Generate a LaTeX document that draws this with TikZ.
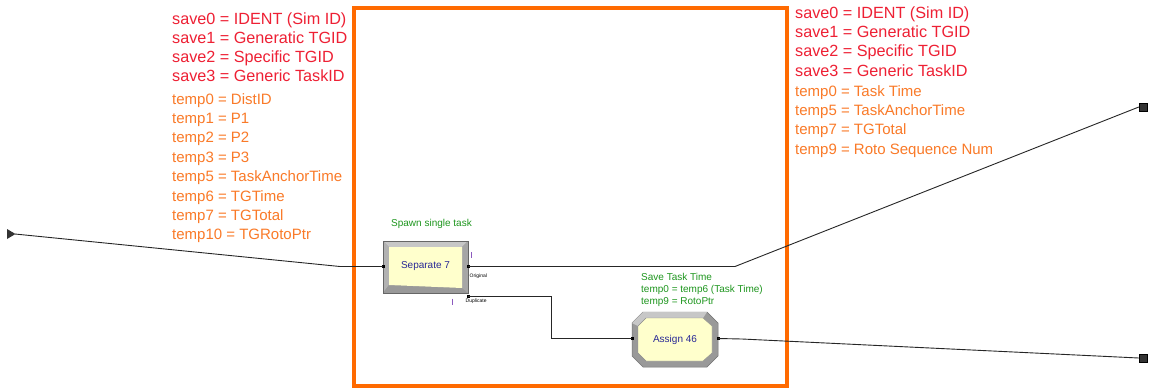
\documentclass[tikz,border=0pt]{standalone}
\usepackage{fontspec}
\setmainfont{Liberation Sans}
\definecolor{redc}{RGB}{238,32,52}
\definecolor{orangetxt}{RGB}{250,122,40}
\definecolor{framec}{RGB}{255,106,0}
\definecolor{greenc}{RGB}{30,150,30}
\definecolor{facec}{RGB}{255,255,204}
\definecolor{bluet}{RGB}{40,40,150}
\definecolor{purplec}{RGB}{140,90,190}
\tikzset{
  redtxt/.style={text=redc, font=\fontsize{16.2}{19}\selectfont, anchor=base west, inner sep=0pt},
  orgtxt/.style={text=orangetxt, font=\fontsize{15}{19}\selectfont, anchor=base west, inner sep=0pt},
  grntxt/.style={text=greenc, font=\fontsize{10}{11.5}\selectfont, anchor=base west, inner sep=0pt},
  tinytxt/.style={text=black, font=\fontsize{5}{6}\selectfont, anchor=base west, inner sep=0pt},
  boxlabel/.style={text=bluet, font=\fontsize{10}{12}\selectfont, inner sep=0pt},
  conn/.style={draw=black!85, line width=0.9pt},
  port/.style={fill=black, inner sep=0pt, minimum size=3pt},
  terminal/.style={fill=black!80, draw=black, minimum size=8pt, inner sep=0pt},
}
\begin{document}
\begin{tikzpicture}[x=1pt,y=-1pt]
\useasboundingbox (0,0) rectangle (1151,389);
\fill[white] (0,0) rectangle (1151,389);

% frame
\draw[framec, line width=4pt] (354,8) rectangle (787,386);

% left text block
\node[redtxt] (l0) at (172,24.5) {save0 = IDENT (Sim ID)};
\node[redtxt] (l1) at (172,43.5) {save1 = Generatic TGID};
\node[redtxt] (l2) at (172,62.5) {save2 = Specific TGID};
\node[redtxt] (l3) at (172,81.5) {save3 = Generic TaskID};
\node[orgtxt] (lt0) at (172,104) {temp0 = DistID};
\node[orgtxt] (lt1) at (172,123.4) {temp1 = P1};
\node[orgtxt] (lt2) at (172,142.8) {temp2 = P2};
\node[orgtxt] (lt3) at (172,162.2) {temp3 = P3};
\node[orgtxt] (lt5) at (172,181.6) {temp5 = TaskAnchorTime};
\node[orgtxt] (lt6) at (172,201) {temp6 = TGTime};
\node[orgtxt] (lt7) at (172,220.4) {temp7 = TGTotal};
\node[orgtxt] (lt10) at (172,239.8) {temp10 = TGRotoPtr};

% right text block
\node[redtxt] (r0) at (795,18.3) {save0 = IDENT (Sim ID)};
\node[redtxt] (r1) at (795,37.6) {save1 = Generatic TGID};
\node[redtxt] (r2) at (795,56.9) {save2 = Specific TGID};
\node[redtxt] (r3) at (795,76.2) {save3 = Generic TaskID};
\node[orgtxt] (rt0) at (795,96) {temp0 = Task Time};
\node[orgtxt] (rt5) at (795,115.4) {temp5 = TaskAnchorTime};
\node[orgtxt] (rt7) at (795,134.8) {temp7 = TGTotal};
\node[orgtxt] (rt9) at (795,154.2) {temp9 = Roto Sequence Num};

% green labels
\node[grntxt] (spawn) at (391,226) {Spawn single task};
\node[grntxt] (sv1) at (641,280) {Save Task Time};
\node[grntxt] (sv2) at (641,292) {temp0 = temp6 (Task Time)};
\node[grntxt] (sv3) at (641,304) {temp9 = RotoPtr};

% Separate 7 module
\fill[black!45] (383,241) rectangle (468,293);
\fill[black!22] (383,241) -- (468,241) -- (462,247) -- (389,247) -- cycle;
\fill[black!30] (383,241) -- (389,247) -- (389,285) -- (383,293) -- cycle;
\fill[black!40] (383,293) -- (389,285) -- (462,288) -- (468,293) -- cycle;
\fill[black!35] (468,241) -- (468,293) -- (462,288) -- (462,247) -- cycle;
\fill[facec] (389,247) -- (462,247) -- (462,288) -- (389,285) -- cycle;
\draw[black!60, line width=0.5pt] (383,241) rectangle (468,293);
\node[boxlabel, minimum width=85pt, minimum height=52pt] (sep) at (425.5,266) {Separate 7};

% Assign 46 module
\fill[black!40, draw=black!55, line width=0.5pt]
  (643,312) -- (707,312) -- (718,323) -- (718,356) -- (707,367) -- (643,367) -- (632,356) -- (632,323) -- cycle;
\fill[black!22] (643,312) -- (707,312) -- (703,318) -- (646,318) -- (638,326) -- (632,323) -- cycle;
\fill[facec, draw=black!45, line width=0.4pt]
  (646,318) -- (703,318) -- (712,326) -- (712,353) -- (703,361) -- (646,361) -- (638,353) -- (638,326) -- cycle;
\node[boxlabel, minimum width=86pt, minimum height=55pt] (asg) at (675,339.5) {Assign 46};

% ports
\node[port] (sepin) at (383,266.5) {};
\node[port] (sepout1) at (468,266.5) {};
\node[port] (sepout2) at (468,296.5) {};
\node[port] (asgin) at (632,338.5) {};
\node[port] (asgout) at (718,338.5) {};

% tiny labels and marks
\node[tinytxt] (orig) at (469.5,277) {Original};
\node[tinytxt] (dupl) at (465.5,302) {Duplicate};
\draw[purplec, line width=0.8pt] (471,252) -- (471,258);
\draw[purplec, line width=0.8pt] (452,298.5) -- (452,304.5);

% source arrow and terminals
\fill[black!80] (7,229) -- (15.5,234) -- (7,239) -- cycle;
\coordinate (src) at (15,234);
\node[terminal] (t1) at (1143,107) {};
\node[terminal] (t2) at (1143,358) {};

\coordinate (b1) at (340,266.5);
\coordinate (b2) at (735,266.5);
\coordinate (b3) at (551.5,296.5);
\coordinate (b4) at (551.5,338.5);
\coordinate (b5) at (742,339);

% connectors
\draw[conn] (src) -- (b1) -- (sepin.center);
\draw[conn] (sepout1.center) -- (b2) -- (t1.west);
\draw[conn] (sepout2.center) -- (b3) -- (b4) -- (asgin.center);
\draw[conn] (asgout.center) -- (b5) -- (t2.west);
\end{tikzpicture}
\end{document}
